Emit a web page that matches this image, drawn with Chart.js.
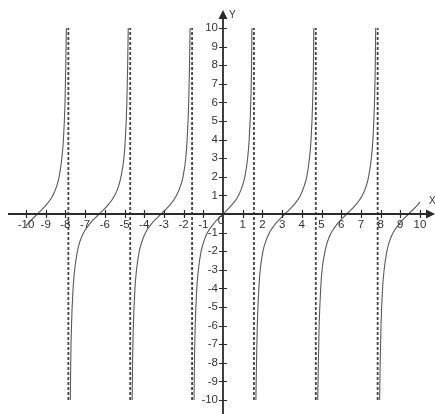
<!DOCTYPE html>
<html>
<head>
<meta charset="utf-8">
<script src="https://cdn.jsdelivr.net/npm/chart.js@4.4.1/dist/chart.umd.min.js"></script>
<style>
  html, body { margin: 0; padding: 0; background: #fff; }
</style>
</head>
<body>
<canvas id="tanChart" width="435" height="414"></canvas>
<script>
// tick labels
const xTicks = [-10, -9, -8, -7, -6, -5, -4, -3, -2, -1, 0, 1, 2, 3, 4, 5, 6, 7, 8, 9, 10];
const yTicks = [-10, -9, -8, -7, -6, -5, -4, -3, -2, -1, 1, 2, 3, 4, 5, 6, 7, 8, 9, 10];

// vertical asymptotes
const asymptoteX = [-7.85, -4.71, -1.57, 1.57, 4.71, 7.85];

// y levels shared by the full branches
const levels = [-10, -8, -6, -4, -3, -2, -1.5, -1, -0.5, 0, 0.5, 1, 1.5, 2, 3, 4, 6, 8, 10];

// full branches (x at each level)
const branch2 = [-7.75, -7.73, -7.69, -7.61, -7.53, -7.39, -7.27, -7.07, -6.75, -6.28, -5.82, -5.50, -5.30, -5.18, -5.03, -4.96, -4.88, -4.84, -4.81];
const branch3 = [-4.61, -4.59, -4.55, -4.47, -4.39, -4.25, -4.12, -3.93, -3.61, -3.14, -2.68, -2.36, -2.16, -2.03, -1.89, -1.82, -1.74, -1.70, -1.67];
const branch4 = [-1.47, -1.45, -1.41, -1.33, -1.25, -1.11, -0.98, -0.79, -0.46, 0, 0.46, 0.79, 0.98, 1.11, 1.25, 1.33, 1.41, 1.45, 1.47];
const branch5 = [1.67, 1.70, 1.74, 1.82, 1.89, 2.03, 2.16, 2.36, 2.68, 3.14, 3.61, 3.93, 4.12, 4.25, 4.39, 4.47, 4.55, 4.59, 4.61];
const branch6 = [4.81, 4.84, 4.88, 4.96, 5.03, 5.18, 5.30, 5.50, 5.82, 6.28, 6.75, 7.07, 7.27, 7.39, 7.53, 7.61, 7.69, 7.73, 7.75];

// cut-off branches at both ends
const leftX = [-10, -9.89, -9.42, -8.96, -8.64, -8.44, -8.32, -8.18, -8.10, -8.02, -7.98, -7.95];
const leftY = [-0.65, -0.5, 0, 0.5, 1, 1.5, 2, 3, 4, 6, 8, 10];
const rightX = [7.95, 7.98, 8.02, 8.10, 8.18, 8.32, 8.44, 8.64, 8.96, 9.42, 9.89, 10];
const rightY = [-10, -8, -6, -4, -3, -2, -1.5, -1, -0.5, 0, 0.5, 0.65];

const zip = (xs, ys) => xs.map((x, i) => ({ x: x, y: ys[i] }));

const curveStyle = {
  borderColor: "#5a5a5a",
  borderWidth: 1.1,
  pointRadius: 0,
  showLine: true,
  fill: false,
  cubicInterpolationMode: "monotone",
  clip: 4
};

const datasets = [];
[zip(leftX, leftY), zip(branch2, levels), zip(branch3, levels), zip(branch4, levels),
 zip(branch5, levels), zip(branch6, levels), zip(rightX, rightY)].forEach(pts => {
  datasets.push(Object.assign({ data: pts }, curveStyle));
});

asymptoteX.forEach(x => {
  datasets.push({
    data: [{ x: x, y: -10 }, { x: x, y: 10 }],
    borderColor: "#444",
    borderWidth: 1.8,
    borderDash: [3, 2],
    pointRadius: 0,
    showLine: true,
    clip: 4
  });
});

// axes through the origin, with crossing ticks and arrows
const centerAxes = {
  id: "centerAxes",
  afterDraw(chart) {
    const ctx = chart.ctx;
    const xs = chart.scales.x, ys = chart.scales.y;
    const ox = xs.getPixelForValue(0), oy = ys.getPixelForValue(0);
    ctx.save();
    ctx.strokeStyle = "#2b2b2b";
    ctx.fillStyle = "#2b2b2b";
    ctx.lineWidth = 1.8;

    ctx.beginPath();
    ctx.moveTo(8, oy);
    ctx.lineTo(428, oy);
    ctx.moveTo(ox, 414);
    ctx.lineTo(ox, 17);
    ctx.stroke();

    // arrow heads
    ctx.beginPath();
    ctx.moveTo(435, oy);
    ctx.lineTo(426, oy - 4.5);
    ctx.lineTo(426, oy + 4.5);
    ctx.closePath();
    ctx.fill();
    ctx.beginPath();
    ctx.moveTo(ox, 10);
    ctx.lineTo(ox - 4.5, 19);
    ctx.lineTo(ox + 4.5, 19);
    ctx.closePath();
    ctx.fill();

    // tick marks
    ctx.lineWidth = 1.2;
    ctx.beginPath();
    xTicks.forEach(v => {
      if (v === 0) return;
      const px = Math.round(xs.getPixelForValue(v)) + 0.5;
      ctx.moveTo(px, oy - 4);
      ctx.lineTo(px, oy + 4);
    });
    yTicks.forEach(v => {
      const py = Math.round(ys.getPixelForValue(v)) + 0.5;
      ctx.moveTo(ox - 4, py);
      ctx.lineTo(ox + 4, py);
    });
    ctx.stroke();

    // labels
    ctx.fillStyle = "#333";
    ctx.font = "11.5px 'Liberation Sans', Arial, sans-serif";
    ctx.textAlign = "center";
    ctx.textBaseline = "middle";
    xTicks.forEach(v => {
      if (v === 0) return;
      ctx.fillText(String(v), xs.getPixelForValue(v), oy + 11);
    });
    ctx.fillText("0", ox - 2, oy + 7);
    ctx.textAlign = "right";
    yTicks.forEach(v => {
      ctx.fillText(String(v), ox - 5, ys.getPixelForValue(v));
    });
    ctx.textAlign = "left";
    ctx.font = "10px 'Liberation Sans', Arial, sans-serif";
    ctx.fillText("Y", ox + 6, 15);
    ctx.fillText("X", 429, oy - 13);
    ctx.restore();
  }
};

new Chart(document.getElementById("tanChart"), {
  type: "scatter",
  data: { datasets: datasets },
  options: {
    responsive: false,
    animation: false,
    layout: { padding: { left: 26, right: 15, top: 28, bottom: 14 } },
    scales: {
      x: { type: "linear", min: -10, max: 10, display: false },
      y: { type: "linear", min: -10, max: 10, display: false }
    },
    plugins: {
      legend: { display: false },
      tooltip: { enabled: false }
    }
  },
  plugins: [centerAxes]
});
</script>
</body>
</html>
